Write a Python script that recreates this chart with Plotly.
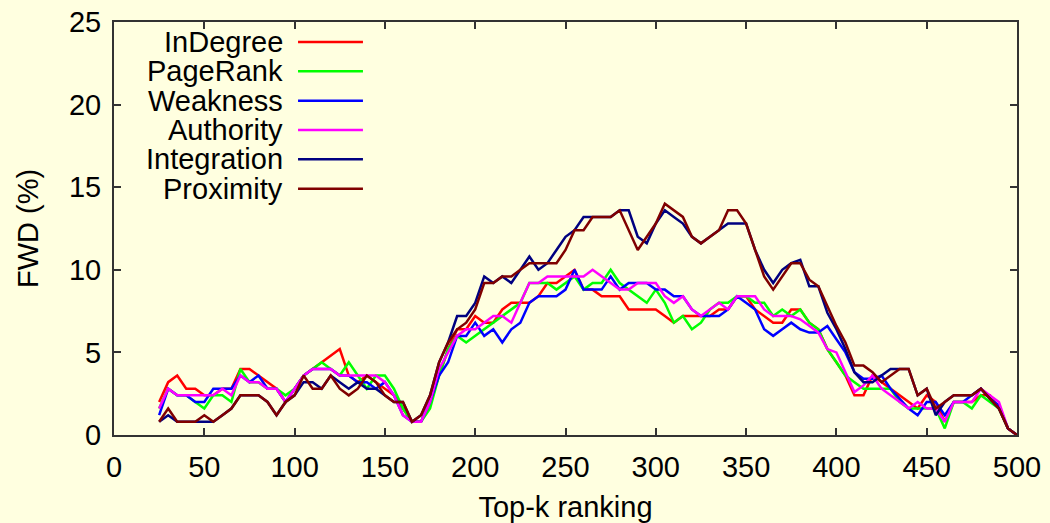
import plotly.graph_objects as go

topk = list(range(25, 501, 5))

names = ["InDegree", "PageRank", "Weakness", "Authority", "Integration", "Proximity"]
colors = ["#FF0000", "#00FF00", "#0000FF", "#FF00FF", "#000080", "#800000"]

indegree = [2.0, 3.2, 3.6, 2.8, 2.8, 2.4, 2.4, 2.8, 2.8, 4.0,
            4.0, 3.6, 3.2, 2.8, 2.0, 2.8, 3.6, 4.0, 4.4, 4.8,
            5.2, 3.6, 3.2, 3.6, 3.2, 2.8, 2.4, 1.6, 0.8, 0.8,
            2.0, 3.6, 5.2, 6.4, 6.4, 7.2, 6.8, 6.8, 7.6, 8.0,
            8.0, 8.0, 8.4, 9.2, 9.2, 9.6, 10.0, 8.8, 8.8, 8.4,
            8.4, 8.4, 7.6, 7.6, 7.6, 7.6, 7.2, 6.8, 7.2, 7.2,
            7.2, 7.2, 7.6, 7.6, 8.4, 8.4, 7.6, 7.2, 6.8, 6.8,
            7.6, 7.6, 6.8, 6.4, 5.2, 4.4, 3.6, 2.4, 2.4, 3.6,
            3.2, 2.8, 2.4, 2.0, 1.6, 2.4, 2.0, 0.8, 2.0, 2.0,
            2.0, 2.4, 2.4, 1.6, 0.4, 0.0]

pagerank = [1.6, 2.8, 2.4, 2.4, 2.0, 1.6, 2.4, 2.4, 2.0, 4.0,
            3.2, 3.2, 2.8, 2.8, 2.4, 2.8, 3.6, 4.0, 4.4, 4.0,
            3.6, 4.4, 3.6, 2.8, 3.6, 3.6, 2.8, 1.6, 0.8, 0.8,
            1.6, 3.6, 5.2, 6.0, 5.6, 6.0, 6.4, 6.8, 7.2, 7.6,
            8.0, 9.2, 9.2, 9.2, 8.8, 9.2, 9.6, 8.8, 9.2, 9.2,
            10.0, 9.2, 8.8, 8.4, 8.0, 8.8, 8.0, 6.8, 7.2, 6.4,
            6.8, 7.6, 8.0, 8.0, 8.4, 8.4, 8.0, 8.0, 7.2, 7.6,
            7.2, 7.6, 6.8, 6.4, 5.2, 4.4, 3.6, 3.2, 2.8, 2.8,
            2.8, 2.8, 2.0, 1.6, 1.6, 1.6, 1.6, 0.4, 2.0, 2.0,
            1.6, 2.4, 2.0, 1.6, 0.4, 0.0]

weakness = [1.2, 2.8, 2.4, 2.4, 2.0, 2.0, 2.8, 2.8, 2.8, 3.6,
            3.2, 3.6, 2.8, 2.8, 2.0, 2.8, 3.6, 4.0, 4.0, 4.0,
            3.6, 3.6, 3.2, 3.2, 2.8, 3.2, 2.4, 1.2, 0.8, 0.8,
            2.0, 3.6, 4.4, 6.0, 6.0, 6.8, 6.0, 6.4, 5.6, 6.4,
            6.8, 8.0, 8.4, 8.4, 8.4, 8.8, 10.0, 8.8, 8.8, 8.8,
            9.6, 8.8, 9.2, 9.2, 9.2, 8.8, 8.8, 8.4, 8.4, 7.6,
            7.2, 7.2, 7.2, 7.6, 8.4, 8.0, 7.6, 6.4, 6.0, 6.4,
            6.8, 6.4, 6.2, 6.2, 6.6, 5.8, 5.0, 3.8, 3.4, 3.4,
            3.6, 2.8, 2.2, 1.6, 1.2, 2.0, 2.0, 1.2, 2.0, 2.0,
            2.4, 2.8, 2.2, 1.8, 0.4, 0.0]

authority = [1.6, 2.8, 2.4, 2.4, 2.4, 2.4, 2.4, 2.8, 2.4, 3.6,
             3.2, 3.2, 2.8, 2.8, 2.0, 2.8, 3.6, 4.0, 4.0, 4.0,
             3.6, 3.6, 3.6, 3.6, 3.6, 3.2, 2.4, 1.2, 0.8, 0.8,
             2.0, 4.0, 5.0, 6.0, 6.4, 6.4, 6.8, 7.2, 7.2, 6.8,
             8.0, 9.2, 9.2, 9.6, 9.6, 9.6, 9.6, 9.6, 10.0, 9.6,
             9.2, 8.8, 8.8, 9.2, 9.2, 9.2, 8.4, 8.0, 8.4, 7.6,
             7.2, 7.6, 8.0, 7.6, 8.4, 8.4, 8.4, 7.6, 7.2, 7.2,
             7.2, 7.0, 6.6, 6.2, 5.2, 5.0, 3.8, 2.6, 3.0, 3.6,
             2.8, 2.4, 2.0, 1.6, 2.0, 1.6, 1.6, 0.8, 2.0, 2.0,
             2.0, 2.8, 2.4, 2.0, 0.4, 0.0]

integration = [0.8, 1.2, 0.8, 0.8, 0.8, 0.8, 0.8, 1.2, 1.6, 2.4,
               2.4, 2.4, 2.0, 1.2, 2.0, 2.4, 3.2, 3.2, 2.8, 3.6,
               3.2, 2.8, 3.2, 2.8, 2.8, 2.4, 2.0, 2.0, 0.8, 1.2,
               2.4, 4.4, 5.6, 7.2, 7.2, 8.0, 9.6, 9.2, 9.6, 9.2,
               10.0, 10.8, 10.0, 10.4, 11.2, 12.0, 12.4, 13.2, 13.2, 13.2,
               13.2, 13.6, 13.6, 12.0, 11.6, 12.8, 13.6, 13.2, 12.8, 12.0,
               11.6, 12.0, 12.4, 12.8, 12.8, 12.8, 11.2, 10.0, 9.2, 10.0,
               10.4, 10.6, 9.0, 9.0, 7.4, 6.4, 5.2, 3.8, 3.2, 3.2,
               3.6, 4.0, 4.0, 4.0, 2.4, 2.8, 1.2, 2.0, 2.4, 2.4,
               2.4, 2.8, 2.2, 1.6, 0.4, 0.0]

proximity = [0.8, 1.6, 0.8, 0.8, 0.8, 1.2, 0.8, 1.2, 1.6, 2.4,
             2.4, 2.4, 2.0, 1.2, 2.0, 2.4, 3.6, 2.8, 2.8, 3.6,
             2.8, 2.4, 2.8, 3.6, 3.2, 2.4, 2.0, 2.0, 0.8, 1.2,
             2.4, 4.4, 5.6, 6.4, 6.8, 7.6, 9.2, 9.2, 9.6, 9.6,
             10.0, 10.4, 10.4, 10.4, 10.4, 11.2, 12.4, 12.4, 13.2, 13.2,
             13.2, 13.6, 12.4, 11.2, 12.0, 12.8, 14.0, 13.6, 13.2, 12.0,
             11.6, 12.0, 12.4, 13.6, 13.6, 12.8, 11.2, 9.6, 8.8, 9.6,
             10.4, 10.4, 9.4, 9.0, 7.8, 6.6, 5.6, 4.2, 4.2, 3.8,
             3.2, 3.6, 4.0, 4.0, 2.4, 2.8, 1.6, 2.0, 2.4, 2.4,
             2.4, 2.8, 2.2, 1.6, 0.4, 0.0]

series = [indegree, pagerank, weakness, authority, integration, proximity]

x_ticks = list(range(0, 501, 50))
y_ticks = list(range(0, 26, 5))

BG = "#FFFFE0"
FONT = "Liberation Sans, Arial, sans-serif"
FS = 29

fig = go.Figure()
for name, col, vals in zip(names, colors, series):
    fig.add_trace(go.Scatter(x=topk, y=vals, mode="lines", name=name,
                             line=dict(color=col, width=2.5), showlegend=False))

# custom legend: text on the left, sample line on the right (gnuplot style)
leg_text_x = 0.189
leg_line_x0, leg_line_x1 = 0.2038, 0.2757
leg_y0, leg_dy = 0.9516, 0.07103
for i, (name, col) in enumerate(zip(names, colors)):
    yy = leg_y0 - i * leg_dy
    fig.add_annotation(x=leg_text_x, y=yy, xref="paper", yref="paper", text=name,
                       showarrow=False, xanchor="right", yanchor="middle",
                       font=dict(family=FONT, size=FS, color="black"))
    fig.add_shape(type="line", xref="paper", yref="paper", x0=leg_line_x0, x1=leg_line_x1,
                  y0=yy, y1=yy, line=dict(color=col, width=2.5))

axis_common = dict(showline=True, linecolor="#333333", linewidth=2, mirror="ticks",
                   ticks="inside", ticklen=7, tickwidth=1.5, tickcolor="#333333",
                   showgrid=False, zeroline=False, automargin=False,
                   tickfont=dict(family=FONT, size=FS, color="black"))

fig.update_xaxes(range=[0, 500], tickvals=x_ticks, ticktext=[str(v) for v in x_ticks],
                 title=dict(text="Top-k ranking", font=dict(family=FONT, size=FS, color="black"), standoff=21),
                 ticklabelstandoff=5, **axis_common)
fig.update_yaxes(range=[0, 25], tickvals=y_ticks, ticktext=[str(v) for v in y_ticks],
                 title=dict(text="FWD (%)", font=dict(family=FONT, size=FS, color="black"), standoff=22),
                 ticklabelstandoff=5, **axis_common)

fig.update_layout(width=1050, height=523, paper_bgcolor=BG, plot_bgcolor=BG,
                  margin=dict(l=114, r=33, t=22, b=88),
                  font=dict(family=FONT, size=FS, color="black"))

fig.write_html("out.html", config={"displayModeBar": False},
               post_script="document.body.style.margin='0';document.body.style.background='#FFFFE0';")
